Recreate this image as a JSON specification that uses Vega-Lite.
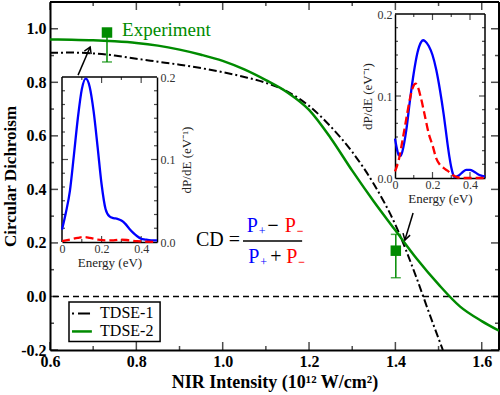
{
 "$schema": "https://vega.github.io/schema/vega-lite/v6.json",
 "width": 449, "height": 348,
 "autosize": {"type": "none"},
 "padding": {"left": 50, "top": 2, "right": 1, "bottom": 45},
 "background": "white",
 "config": {
  "font": "Liberation Serif",
  "view": {"stroke": null},
  "axis": {"labelFont": "Liberation Serif", "titleFont": "Liberation Serif", "labelColor": "black", "titleColor": "black", "domainColor": "black", "tickColor": "black", "grid": false, "labelFlush": false, "labelOverlap": false},
  "text": {"font": "Liberation Serif"}
 },
 "datasets": {
  "cd": [
   {"series": "TDSE-1", "I": 0.60, "CD": 0.910}, {"series": "TDSE-1", "I": 0.65, "CD": 0.911}, {"series": "TDSE-1", "I": 0.70, "CD": 0.908}, {"series": "TDSE-1", "I": 0.75, "CD": 0.900}, {"series": "TDSE-1", "I": 0.80, "CD": 0.888}, {"series": "TDSE-1", "I": 0.85, "CD": 0.877}, {"series": "TDSE-1", "I": 0.90, "CD": 0.866}, {"series": "TDSE-1", "I": 0.95, "CD": 0.853}, {"series": "TDSE-1", "I": 1.00, "CD": 0.838}, {"series": "TDSE-1", "I": 1.05, "CD": 0.820}, {"series": "TDSE-1", "I": 1.10, "CD": 0.798}, {"series": "TDSE-1", "I": 1.15, "CD": 0.765}, {"series": "TDSE-1", "I": 1.20, "CD": 0.712}, {"series": "TDSE-1", "I": 1.25, "CD": 0.635}, {"series": "TDSE-1", "I": 1.30, "CD": 0.540}, {"series": "TDSE-1", "I": 1.35, "CD": 0.420}, {"series": "TDSE-1", "I": 1.40, "CD": 0.268}, {"series": "TDSE-1", "I": 1.45, "CD": 0.065}, {"series": "TDSE-1", "I": 1.48, "CD": -0.070}, {"series": "TDSE-1", "I": 1.51, "CD": -0.200},
   {"series": "TDSE-2", "I": 0.60, "CD": 0.960}, {"series": "TDSE-2", "I": 0.65, "CD": 0.959}, {"series": "TDSE-2", "I": 0.70, "CD": 0.957}, {"series": "TDSE-2", "I": 0.75, "CD": 0.953}, {"series": "TDSE-2", "I": 0.80, "CD": 0.947}, {"series": "TDSE-2", "I": 0.85, "CD": 0.937}, {"series": "TDSE-2", "I": 0.90, "CD": 0.922}, {"series": "TDSE-2", "I": 0.95, "CD": 0.903}, {"series": "TDSE-2", "I": 1.00, "CD": 0.880}, {"series": "TDSE-2", "I": 1.05, "CD": 0.848}, {"series": "TDSE-2", "I": 1.10, "CD": 0.808}, {"series": "TDSE-2", "I": 1.15, "CD": 0.762}, {"series": "TDSE-2", "I": 1.20, "CD": 0.697}, {"series": "TDSE-2", "I": 1.25, "CD": 0.592}, {"series": "TDSE-2", "I": 1.30, "CD": 0.470}, {"series": "TDSE-2", "I": 1.35, "CD": 0.355}, {"series": "TDSE-2", "I": 1.40, "CD": 0.247}, {"series": "TDSE-2", "I": 1.45, "CD": 0.140}, {"series": "TDSE-2", "I": 1.50, "CD": 0.045}, {"series": "TDSE-2", "I": 1.55, "CD": -0.038}, {"series": "TDSE-2", "I": 1.60, "CD": -0.092}, {"series": "TDSE-2", "I": 1.64, "CD": -0.128}
  ],
  "exp": [
   {"I": 0.732, "CD": 0.986, "lo": 0.876, "hi": 0.986},
   {"I": 1.401, "CD": 0.171, "lo": 0.070, "hi": 0.232}
  ],
  "mxMaj": [{"v": 0.6}, {"v": 0.8}, {"v": 1.0}, {"v": 1.2}, {"v": 1.4}, {"v": 1.6}],
  "mxMin": [{"v": 0.7}, {"v": 0.9}, {"v": 1.1}, {"v": 1.3}, {"v": 1.5}],
  "myMaj": [{"v": -0.2}, {"v": 0.0}, {"v": 0.2}, {"v": 0.4}, {"v": 0.6}, {"v": 0.8}, {"v": 1.0}],
  "myMin": [{"v": -0.1}, {"v": 0.1}, {"v": 0.3}, {"v": 0.5}, {"v": 0.7}, {"v": 0.9}],
  "ixMaj": [{"v": 0.2}, {"v": 0.4}],
  "ixMin": [{"v": 0.1}, {"v": 0.3}],
  "iyMaj": [{"v": 0.1}],
  "iyMin": [{"v": 0.016667}, {"v": 0.033333}, {"v": 0.05}, {"v": 0.066667}, {"v": 0.083333}, {"v": 0.116667}, {"v": 0.133333}, {"v": 0.15}, {"v": 0.166667}, {"v": 0.183333}],
  "in1": [
   {"s": "P+", "E": 0.00, "P": 0.015}, {"s": "P+", "E": 0.02, "P": 0.036}, {"s": "P+", "E": 0.04, "P": 0.062}, {"s": "P+", "E": 0.06, "P": 0.105}, {"s": "P+", "E": 0.08, "P": 0.150}, {"s": "P+", "E": 0.10, "P": 0.185}, {"s": "P+", "E": 0.12, "P": 0.198}, {"s": "P+", "E": 0.14, "P": 0.188}, {"s": "P+", "E": 0.16, "P": 0.158}, {"s": "P+", "E": 0.18, "P": 0.115}, {"s": "P+", "E": 0.20, "P": 0.070}, {"s": "P+", "E": 0.22, "P": 0.040}, {"s": "P+", "E": 0.24, "P": 0.031}, {"s": "P+", "E": 0.26, "P": 0.029}, {"s": "P+", "E": 0.28, "P": 0.028}, {"s": "P+", "E": 0.30, "P": 0.026}, {"s": "P+", "E": 0.32, "P": 0.022}, {"s": "P+", "E": 0.34, "P": 0.016}, {"s": "P+", "E": 0.36, "P": 0.011}, {"s": "P+", "E": 0.38, "P": 0.007}, {"s": "P+", "E": 0.40, "P": 0.004}, {"s": "P+", "E": 0.42, "P": 0.003}, {"s": "P+", "E": 0.45, "P": 0.002}, {"s": "P+", "E": 0.48, "P": 0.002},
   {"s": "P-", "E": 0.00, "P": 0.001}, {"s": "P-", "E": 0.04, "P": 0.003}, {"s": "P-", "E": 0.08, "P": 0.005}, {"s": "P-", "E": 0.11, "P": 0.006}, {"s": "P-", "E": 0.14, "P": 0.005}, {"s": "P-", "E": 0.18, "P": 0.003}, {"s": "P-", "E": 0.22, "P": 0.002}, {"s": "P-", "E": 0.26, "P": 0.002}, {"s": "P-", "E": 0.30, "P": 0.003}, {"s": "P-", "E": 0.34, "P": 0.002}, {"s": "P-", "E": 0.38, "P": 0.001}, {"s": "P-", "E": 0.42, "P": 0.0005}, {"s": "P-", "E": 0.48, "P": 0.0}
  ],
  "in2": [
   {"s": "P+", "E": 0.00, "P": 0.048}, {"s": "P+", "E": 0.01, "P": 0.036}, {"s": "P+", "E": 0.02, "P": 0.028}, {"s": "P+", "E": 0.03, "P": 0.027}, {"s": "P+", "E": 0.04, "P": 0.033}, {"s": "P+", "E": 0.06, "P": 0.058}, {"s": "P+", "E": 0.08, "P": 0.095}, {"s": "P+", "E": 0.10, "P": 0.128}, {"s": "P+", "E": 0.12, "P": 0.153}, {"s": "P+", "E": 0.14, "P": 0.166}, {"s": "P+", "E": 0.15, "P": 0.168}, {"s": "P+", "E": 0.16, "P": 0.167}, {"s": "P+", "E": 0.18, "P": 0.161}, {"s": "P+", "E": 0.20, "P": 0.150}, {"s": "P+", "E": 0.22, "P": 0.132}, {"s": "P+", "E": 0.24, "P": 0.107}, {"s": "P+", "E": 0.26, "P": 0.077}, {"s": "P+", "E": 0.28, "P": 0.042}, {"s": "P+", "E": 0.29, "P": 0.026}, {"s": "P+", "E": 0.30, "P": 0.013}, {"s": "P+", "E": 0.31, "P": 0.004}, {"s": "P+", "E": 0.32, "P": 0.001}, {"s": "P+", "E": 0.34, "P": 0.003}, {"s": "P+", "E": 0.36, "P": 0.007}, {"s": "P+", "E": 0.38, "P": 0.010}, {"s": "P+", "E": 0.40, "P": 0.010}, {"s": "P+", "E": 0.42, "P": 0.008}, {"s": "P+", "E": 0.44, "P": 0.005}, {"s": "P+", "E": 0.46, "P": 0.003}, {"s": "P+", "E": 0.48, "P": 0.002},
   {"s": "P-", "E": 0.00, "P": 0.008}, {"s": "P-", "E": 0.02, "P": 0.022}, {"s": "P-", "E": 0.04, "P": 0.046}, {"s": "P-", "E": 0.06, "P": 0.072}, {"s": "P-", "E": 0.08, "P": 0.097}, {"s": "P-", "E": 0.10, "P": 0.113}, {"s": "P-", "E": 0.11, "P": 0.115}, {"s": "P-", "E": 0.12, "P": 0.112}, {"s": "P-", "E": 0.14, "P": 0.096}, {"s": "P-", "E": 0.16, "P": 0.075}, {"s": "P-", "E": 0.18, "P": 0.054}, {"s": "P-", "E": 0.20, "P": 0.040}, {"s": "P-", "E": 0.22, "P": 0.024}, {"s": "P-", "E": 0.24, "P": 0.016}, {"s": "P-", "E": 0.26, "P": 0.012}, {"s": "P-", "E": 0.28, "P": 0.009}, {"s": "P-", "E": 0.30, "P": 0.005}, {"s": "P-", "E": 0.32, "P": 0.002}, {"s": "P-", "E": 0.36, "P": 0.0}, {"s": "P-", "E": 0.40, "P": 0.0}, {"s": "P-", "E": 0.48, "P": 0.0}
  ]
 },
 "resolve": {"scale": {"x": "independent", "y": "independent"}},
 "layer": [
  {
   "data": {"name": "cd"},
   "layer": [
    {"mark": {"type": "point", "opacity": 0},
     "encoding": {
      "x": {"field": "I", "type": "quantitative", "scale": {"domain": [0.6, 1.64], "nice": false, "zero": false},
       "axis": {"orient": "bottom", "values": [0.6, 0.8, 1.0, 1.2, 1.4, 1.6], "format": ".1f", "ticks": false, "tickSize": 0, "domainWidth": 2, "labelFontWeight": "bold", "labelFontSize": 16, "labelPadding": 3, "title": "NIR Intensity (10¹² W/cm²)", "titleFontSize": 18, "titleFontWeight": "bold", "titlePadding": 4}},
      "y": {"field": "CD", "type": "quantitative", "scale": {"domain": [-0.2, 1.1], "nice": false, "zero": false},
       "axis": {"orient": "left", "values": [-0.2, 0, 0.2, 0.4, 0.6, 0.8, 1.0], "labelExpr": "replace(format(datum.value, '.1f'), '−', '-')", "ticks": false, "tickSize": 0, "domainWidth": 2, "labelFontWeight": "bold", "labelFontSize": 16, "labelPadding": 4, "title": "Circular Dichroism", "titleFontSize": 17, "titleFontWeight": "bold", "titlePadding": 1}}
     }},
    {"data": {"values": [{}]}, "mark": {"type": "rule", "strokeWidth": 2, "color": "black"},
     "encoding": {"y": {"datum": 1.1, "type": "quantitative"}}},
    {"data": {"values": [{}]}, "mark": {"type": "rule", "strokeWidth": 2, "color": "black"},
     "encoding": {"x": {"datum": 1.64, "type": "quantitative"}}},
    {"data": {"name": "mxMaj"}, "mark": {"type": "tick", "orient": "vertical", "size": 8, "thickness": 1.5, "color": "black", "yOffset": -4},
     "encoding": {"x": {"field": "v", "type": "quantitative"}, "y": {"datum": -0.2, "type": "quantitative"}}},
    {"data": {"name": "mxMin"}, "mark": {"type": "tick", "orient": "vertical", "size": 4, "thickness": 1.5, "color": "black", "yOffset": -2},
     "encoding": {"x": {"field": "v", "type": "quantitative"}, "y": {"datum": -0.2, "type": "quantitative"}}},
    {"data": {"name": "mxMaj"}, "mark": {"type": "tick", "orient": "vertical", "size": 8, "thickness": 1.5, "color": "black", "yOffset": 4},
     "encoding": {"x": {"field": "v", "type": "quantitative"}, "y": {"datum": 1.1, "type": "quantitative"}}},
    {"data": {"name": "mxMin"}, "mark": {"type": "tick", "orient": "vertical", "size": 4, "thickness": 1.5, "color": "black", "yOffset": 2},
     "encoding": {"x": {"field": "v", "type": "quantitative"}, "y": {"datum": 1.1, "type": "quantitative"}}},
    {"data": {"name": "myMaj"}, "mark": {"type": "tick", "orient": "horizontal", "size": 8, "thickness": 1.5, "color": "black", "xOffset": 4},
     "encoding": {"y": {"field": "v", "type": "quantitative"}, "x": {"datum": 0.6, "type": "quantitative"}}},
    {"data": {"name": "myMin"}, "mark": {"type": "tick", "orient": "horizontal", "size": 4, "thickness": 1.5, "color": "black", "xOffset": 2},
     "encoding": {"y": {"field": "v", "type": "quantitative"}, "x": {"datum": 0.6, "type": "quantitative"}}},
    {"data": {"name": "myMaj"}, "mark": {"type": "tick", "orient": "horizontal", "size": 8, "thickness": 1.5, "color": "black", "xOffset": -4},
     "encoding": {"y": {"field": "v", "type": "quantitative"}, "x": {"datum": 1.64, "type": "quantitative"}}},
    {"data": {"name": "myMin"}, "mark": {"type": "tick", "orient": "horizontal", "size": 4, "thickness": 1.5, "color": "black", "xOffset": -2},
     "encoding": {"y": {"field": "v", "type": "quantitative"}, "x": {"datum": 1.64, "type": "quantitative"}}},
    {"data": {"values": [{}]},
     "mark": {"type": "rule", "strokeDash": [6, 4], "strokeWidth": 1.5, "color": "black"},
     "encoding": {"y": {"datum": 0, "type": "quantitative"}}},
    {"transform": [{"filter": "datum.series == 'TDSE-1'"}],
     "mark": {"type": "line", "strokeWidth": 2, "color": "black", "strokeDash": [8, 3, 2, 3], "clip": true, "interpolate": "monotone"},
     "encoding": {"x": {"field": "I", "type": "quantitative"}, "y": {"field": "CD", "type": "quantitative"}}},
    {"transform": [{"filter": "datum.series == 'TDSE-2'"}],
     "mark": {"type": "line", "strokeWidth": 2.5, "color": "#008b00", "clip": true, "interpolate": "monotone"},
     "encoding": {"x": {"field": "I", "type": "quantitative"}, "y": {"field": "CD", "type": "quantitative"}}},
    {"data": {"values": [{}]},
     "mark": {"type": "rect", "fill": "white", "stroke": "black", "strokeWidth": 1.5},
     "encoding": {"x": {"datum": 0.644, "type": "quantitative"}, "x2": {"datum": 0.855}, "y": {"datum": -0.0205, "type": "quantitative"}, "y2": {"datum": -0.168}}},
    {"data": {"values": [{}]},
     "mark": {"type": "rule", "strokeWidth": 2, "color": "black", "strokeDash": [2, 4, 12, 3]},
     "encoding": {"x": {"datum": 0.651, "type": "quantitative"}, "x2": {"datum": 0.697}, "y": {"datum": -0.0635, "type": "quantitative"}}},
    {"data": {"values": [{}]},
     "mark": {"type": "rule", "strokeWidth": 2.5, "color": "#008b00"},
     "encoding": {"x": {"datum": 0.651, "type": "quantitative"}, "x2": {"datum": 0.697}, "y": {"datum": -0.1307, "type": "quantitative"}}},
    {"data": {"values": [{}]},
     "mark": {"type": "text", "text": "TDSE-1", "fontSize": 16, "color": "black", "align": "left", "baseline": "middle"},
     "encoding": {"x": {"datum": 0.716, "type": "quantitative"}, "y": {"datum": -0.0635, "type": "quantitative"}}},
    {"data": {"values": [{}]},
     "mark": {"type": "text", "text": "TDSE-2", "fontSize": 16, "color": "black", "align": "left", "baseline": "middle"},
     "encoding": {"x": {"datum": 0.716, "type": "quantitative"}, "y": {"datum": -0.1307, "type": "quantitative"}}},
    {"data": {"name": "exp"},
     "mark": {"type": "rule", "color": "#008b00", "strokeWidth": 1.5},
     "encoding": {"x": {"field": "I", "type": "quantitative"}, "y": {"field": "lo", "type": "quantitative"}, "y2": {"field": "hi"}}},
    {"data": {"name": "exp"},
     "mark": {"type": "tick", "orient": "horizontal", "color": "#008b00", "size": 10, "thickness": 1.5},
     "encoding": {"x": {"field": "I", "type": "quantitative"}, "y": {"field": "lo", "type": "quantitative"}}},
    {"data": {"name": "exp"},
     "mark": {"type": "tick", "orient": "horizontal", "color": "#008b00", "size": 10, "thickness": 1.5},
     "encoding": {"x": {"field": "I", "type": "quantitative"}, "y": {"field": "hi", "type": "quantitative"}}},
    {"data": {"name": "exp"},
     "mark": {"type": "point", "shape": "square", "filled": true, "color": "#008b00", "size": 110, "opacity": 1},
     "encoding": {"x": {"field": "I", "type": "quantitative"}, "y": {"field": "CD", "type": "quantitative"}}},
    {"data": {"values": [{}]},
     "mark": {"type": "text", "text": "Experiment", "fontSize": 19, "color": "#008b00", "align": "left", "baseline": "middle"},
     "encoding": {"x": {"datum": 0.767, "type": "quantitative"}, "y": {"datum": 0.995, "type": "quantitative"}}},
    {"data": {"values": [{}]},
     "mark": {"type": "rule", "strokeWidth": 1.5, "color": "black"},
     "encoding": {"x": {"datum": 0.665, "type": "quantitative"}, "y": {"datum": 0.827, "type": "quantitative"}, "x2": {"datum": 0.693}, "y2": {"datum": 0.932}}},
    {"data": {"values": [{}]},
     "mark": {"type": "point", "shape": "M -0.6 1 L 0 0 L 0.6 1", "filled": false, "stroke": "black", "strokeWidth": 1.5, "size": 150, "angle": 23, "opacity": 1},
     "encoding": {"x": {"datum": 0.693, "type": "quantitative"}, "y": {"datum": 0.932, "type": "quantitative"}}},
    {"data": {"values": [{}]},
     "mark": {"type": "rule", "strokeWidth": 1.5, "color": "black"},
     "encoding": {"x": {"datum": 1.441, "type": "quantitative"}, "y": {"datum": 0.312, "type": "quantitative"}, "x2": {"datum": 1.422}, "y2": {"datum": 0.211}}},
    {"data": {"values": [{}]},
     "mark": {"type": "point", "shape": "M -0.6 1 L 0 0 L 0.6 1", "filled": false, "stroke": "black", "strokeWidth": 1.5, "size": 150, "angle": 196, "opacity": 1},
     "encoding": {"x": {"datum": 1.422, "type": "quantitative"}, "y": {"datum": 0.211, "type": "quantitative"}}},
    {"data": {"values": [{}]},
     "mark": {"type": "text", "text": "CD =", "fontSize": 20, "color": "black", "align": "right", "baseline": "middle"},
     "encoding": {"x": {"datum": 1.040, "type": "quantitative"}, "y": {"datum": 0.21, "type": "quantitative"}}},
    {"data": {"values": [{}]},
     "mark": {"type": "rule", "strokeWidth": 1.5, "color": "black"},
     "encoding": {"x": {"datum": 1.047, "type": "quantitative"}, "x2": {"datum": 1.184}, "y": {"datum": 0.207, "type": "quantitative"}}},
    {"data": {"values": [{}]},
     "mark": {"type": "text", "text": "P", "fontSize": 20, "color": "blue", "align": "left", "baseline": "middle"},
     "encoding": {"x": {"datum": 1.056, "type": "quantitative"}, "y": {"datum": 0.263, "type": "quantitative"}}},
    {"data": {"values": [{}]},
     "mark": {"type": "text", "text": "+", "fontSize": 12, "color": "blue", "align": "left", "baseline": "middle", "dx": 12, "dy": 5},
     "encoding": {"x": {"datum": 1.056, "type": "quantitative"}, "y": {"datum": 0.263, "type": "quantitative"}}},
    {"data": {"values": [{}]},
     "mark": {"type": "text", "text": "−", "fontSize": 20, "fontWeight": "bold", "color": "black", "align": "left", "baseline": "middle"},
     "encoding": {"x": {"datum": 1.103, "type": "quantitative"}, "y": {"datum": 0.263, "type": "quantitative"}}},
    {"data": {"values": [{}]},
     "mark": {"type": "text", "text": "P", "fontSize": 20, "color": "red", "align": "left", "baseline": "middle"},
     "encoding": {"x": {"datum": 1.144, "type": "quantitative"}, "y": {"datum": 0.263, "type": "quantitative"}}},
    {"data": {"values": [{}]},
     "mark": {"type": "text", "text": "−", "fontSize": 12, "fontWeight": "bold", "color": "red", "align": "left", "baseline": "middle", "dx": 12, "dy": 5},
     "encoding": {"x": {"datum": 1.144, "type": "quantitative"}, "y": {"datum": 0.263, "type": "quantitative"}}},
    {"data": {"values": [{}]},
     "mark": {"type": "text", "text": "P", "fontSize": 20, "color": "blue", "align": "left", "baseline": "middle"},
     "encoding": {"x": {"datum": 1.059, "type": "quantitative"}, "y": {"datum": 0.148, "type": "quantitative"}}},
    {"data": {"values": [{}]},
     "mark": {"type": "text", "text": "+", "fontSize": 12, "color": "blue", "align": "left", "baseline": "middle", "dx": 12, "dy": 5},
     "encoding": {"x": {"datum": 1.059, "type": "quantitative"}, "y": {"datum": 0.148, "type": "quantitative"}}},
    {"data": {"values": [{}]},
     "mark": {"type": "text", "text": "+", "fontSize": 20, "color": "black", "align": "left", "baseline": "middle"},
     "encoding": {"x": {"datum": 1.110, "type": "quantitative"}, "y": {"datum": 0.148, "type": "quantitative"}}},
    {"data": {"values": [{}]},
     "mark": {"type": "text", "text": "P", "fontSize": 20, "color": "red", "align": "left", "baseline": "middle"},
     "encoding": {"x": {"datum": 1.147, "type": "quantitative"}, "y": {"datum": 0.148, "type": "quantitative"}}},
    {"data": {"values": [{}]},
     "mark": {"type": "text", "text": "−", "fontSize": 12, "fontWeight": "bold", "color": "red", "align": "left", "baseline": "middle", "dx": 12, "dy": 5},
     "encoding": {"x": {"datum": 1.147, "type": "quantitative"}, "y": {"datum": 0.148, "type": "quantitative"}}}
   ]
  },
  {
   "data": {"name": "in1"},
   "layer": [
    {"mark": {"type": "point", "opacity": 0},
     "encoding": {
      "x": {"field": "E", "type": "quantitative", "scale": {"domain": [0, 0.48], "range": [12, 107], "nice": false, "zero": false},
       "axis": {"orient": "bottom", "offset": -108, "values": [0, 0.2, 0.4], "labelExpr": "datum.value == 0 ? '0' : format(datum.value, '.1f')", "ticks": false, "tickSize": 0, "domainWidth": 1.5, "labelFontSize": 12, "labelColor": "#333", "labelPadding": 1, "title": "Energy (eV)", "titleFontSize": 13, "titleFontWeight": "normal", "titleColor": "#222", "titlePadding": 2}},
      "y": {"field": "P", "type": "quantitative", "scale": {"domain": [0, 0.2], "range": [240, 75], "nice": false, "zero": false},
       "axis": {"orient": "right", "offset": -342, "values": [0, 0.1, 0.2], "format": ".1f", "ticks": false, "tickSize": 0, "domainWidth": 1.5, "labelFontSize": 12, "labelColor": "#333", "labelPadding": 3, "title": "dP/dE (eV⁻¹)", "titleFontSize": 13, "titleFontWeight": "normal", "titleColor": "#222", "titleAngle": 270, "titleBaseline": "top", "titlePadding": 5}}
     }},
    {"data": {"values": [{}]}, "mark": {"type": "rule", "strokeWidth": 1.5, "color": "black"},
     "encoding": {"x": {"datum": 0, "type": "quantitative"}, "x2": {"datum": 0.48}, "y": {"datum": 0.2, "type": "quantitative"}}},
    {"data": {"values": [{}]}, "mark": {"type": "rule", "strokeWidth": 1.5, "color": "black"},
     "encoding": {"x": {"datum": 0, "type": "quantitative"}, "y": {"datum": 0, "type": "quantitative"}, "y2": {"datum": 0.2}}},
    {"data": {"name": "ixMaj"}, "mark": {"type": "tick", "orient": "vertical", "size": 6, "thickness": 1.2, "color": "black", "yOffset": -3},
     "encoding": {"x": {"field": "v", "type": "quantitative"}, "y": {"datum": 0, "type": "quantitative"}}},
    {"data": {"name": "ixMin"}, "mark": {"type": "tick", "orient": "vertical", "size": 3, "thickness": 1.2, "color": "black", "yOffset": -1.5},
     "encoding": {"x": {"field": "v", "type": "quantitative"}, "y": {"datum": 0, "type": "quantitative"}}},
    {"data": {"name": "ixMaj"}, "mark": {"type": "tick", "orient": "vertical", "size": 6, "thickness": 1.2, "color": "black", "yOffset": 3},
     "encoding": {"x": {"field": "v", "type": "quantitative"}, "y": {"datum": 0.2, "type": "quantitative"}}},
    {"data": {"name": "ixMin"}, "mark": {"type": "tick", "orient": "vertical", "size": 3, "thickness": 1.2, "color": "black", "yOffset": 1.5},
     "encoding": {"x": {"field": "v", "type": "quantitative"}, "y": {"datum": 0.2, "type": "quantitative"}}},
    {"data": {"name": "iyMaj"}, "mark": {"type": "tick", "orient": "horizontal", "size": 6, "thickness": 1.2, "color": "black", "xOffset": 3},
     "encoding": {"y": {"field": "v", "type": "quantitative"}, "x": {"datum": 0, "type": "quantitative"}}},
    {"data": {"name": "iyMin"}, "mark": {"type": "tick", "orient": "horizontal", "size": 3, "thickness": 1.2, "color": "black", "xOffset": 1.5},
     "encoding": {"y": {"field": "v", "type": "quantitative"}, "x": {"datum": 0, "type": "quantitative"}}},
    {"data": {"name": "iyMaj"}, "mark": {"type": "tick", "orient": "horizontal", "size": 6, "thickness": 1.2, "color": "black", "xOffset": -3},
     "encoding": {"y": {"field": "v", "type": "quantitative"}, "x": {"datum": 0.48, "type": "quantitative"}}},
    {"data": {"name": "iyMin"}, "mark": {"type": "tick", "orient": "horizontal", "size": 3, "thickness": 1.2, "color": "black", "xOffset": -1.5},
     "encoding": {"y": {"field": "v", "type": "quantitative"}, "x": {"datum": 0.48, "type": "quantitative"}}},
    {"transform": [{"filter": "datum.s == 'P+'"}],
     "mark": {"type": "line", "color": "blue", "strokeWidth": 2.3, "interpolate": "monotone"},
     "encoding": {"x": {"field": "E", "type": "quantitative"}, "y": {"field": "P", "type": "quantitative"}}},
    {"transform": [{"filter": "datum.s == 'P-'"}],
     "mark": {"type": "line", "color": "red", "strokeWidth": 2.3, "strokeDash": [8, 4], "interpolate": "monotone"},
     "encoding": {"x": {"field": "E", "type": "quantitative"}, "y": {"field": "P", "type": "quantitative"}}}
   ]
  },
  {
   "data": {"name": "in2"},
   "layer": [
    {"mark": {"type": "point", "opacity": 0},
     "encoding": {
      "x": {"field": "E", "type": "quantitative", "scale": {"domain": [0, 0.48], "range": [345, 435], "nice": false, "zero": false},
       "axis": {"orient": "bottom", "offset": -172, "values": [0, 0.2, 0.4], "labelExpr": "datum.value == 0 ? '0' : format(datum.value, '.1f')", "ticks": false, "tickSize": 0, "domainWidth": 1.5, "labelFontSize": 12, "labelColor": "#333", "labelPadding": 1, "title": "Energy (eV)", "titleFontSize": 13, "titleFontWeight": "normal", "titleColor": "#222", "titlePadding": 2}},
      "y": {"field": "P", "type": "quantitative", "scale": {"domain": [0, 0.2], "range": [176, 12], "nice": false, "zero": false},
       "axis": {"orient": "left", "offset": -345, "values": [0, 0.1, 0.2], "format": ".1f", "ticks": false, "tickSize": 0, "domainWidth": 1.5, "labelFontSize": 12, "labelColor": "#333", "labelPadding": 3, "title": "dP/dE (eV⁻¹)", "titleFontSize": 13, "titleFontWeight": "normal", "titleColor": "#222", "titlePadding": 3}}
     }},
    {"data": {"values": [{}]}, "mark": {"type": "rule", "strokeWidth": 1.5, "color": "black"},
     "encoding": {"x": {"datum": 0, "type": "quantitative"}, "x2": {"datum": 0.48}, "y": {"datum": 0.2, "type": "quantitative"}}},
    {"data": {"values": [{}]}, "mark": {"type": "rule", "strokeWidth": 1.5, "color": "black"},
     "encoding": {"x": {"datum": 0.48, "type": "quantitative"}, "y": {"datum": 0, "type": "quantitative"}, "y2": {"datum": 0.2}}},
    {"data": {"name": "ixMaj"}, "mark": {"type": "tick", "orient": "vertical", "size": 6, "thickness": 1.2, "color": "black", "yOffset": -3},
     "encoding": {"x": {"field": "v", "type": "quantitative"}, "y": {"datum": 0, "type": "quantitative"}}},
    {"data": {"name": "ixMin"}, "mark": {"type": "tick", "orient": "vertical", "size": 3, "thickness": 1.2, "color": "black", "yOffset": -1.5},
     "encoding": {"x": {"field": "v", "type": "quantitative"}, "y": {"datum": 0, "type": "quantitative"}}},
    {"data": {"name": "ixMaj"}, "mark": {"type": "tick", "orient": "vertical", "size": 6, "thickness": 1.2, "color": "black", "yOffset": 3},
     "encoding": {"x": {"field": "v", "type": "quantitative"}, "y": {"datum": 0.2, "type": "quantitative"}}},
    {"data": {"name": "ixMin"}, "mark": {"type": "tick", "orient": "vertical", "size": 3, "thickness": 1.2, "color": "black", "yOffset": 1.5},
     "encoding": {"x": {"field": "v", "type": "quantitative"}, "y": {"datum": 0.2, "type": "quantitative"}}},
    {"data": {"name": "iyMaj"}, "mark": {"type": "tick", "orient": "horizontal", "size": 6, "thickness": 1.2, "color": "black", "xOffset": 3},
     "encoding": {"y": {"field": "v", "type": "quantitative"}, "x": {"datum": 0, "type": "quantitative"}}},
    {"data": {"name": "iyMin"}, "mark": {"type": "tick", "orient": "horizontal", "size": 3, "thickness": 1.2, "color": "black", "xOffset": 1.5},
     "encoding": {"y": {"field": "v", "type": "quantitative"}, "x": {"datum": 0, "type": "quantitative"}}},
    {"data": {"name": "iyMaj"}, "mark": {"type": "tick", "orient": "horizontal", "size": 6, "thickness": 1.2, "color": "black", "xOffset": -3},
     "encoding": {"y": {"field": "v", "type": "quantitative"}, "x": {"datum": 0.48, "type": "quantitative"}}},
    {"data": {"name": "iyMin"}, "mark": {"type": "tick", "orient": "horizontal", "size": 3, "thickness": 1.2, "color": "black", "xOffset": -1.5},
     "encoding": {"y": {"field": "v", "type": "quantitative"}, "x": {"datum": 0.48, "type": "quantitative"}}},
    {"transform": [{"filter": "datum.s == 'P+'"}],
     "mark": {"type": "line", "color": "blue", "strokeWidth": 2.3, "interpolate": "monotone"},
     "encoding": {"x": {"field": "E", "type": "quantitative"}, "y": {"field": "P", "type": "quantitative"}}},
    {"transform": [{"filter": "datum.s == 'P-'"}],
     "mark": {"type": "line", "color": "red", "strokeWidth": 2.3, "strokeDash": [8, 4], "interpolate": "monotone"},
     "encoding": {"x": {"field": "E", "type": "quantitative"}, "y": {"field": "P", "type": "quantitative"}}}
   ]
  }
 ]
}
